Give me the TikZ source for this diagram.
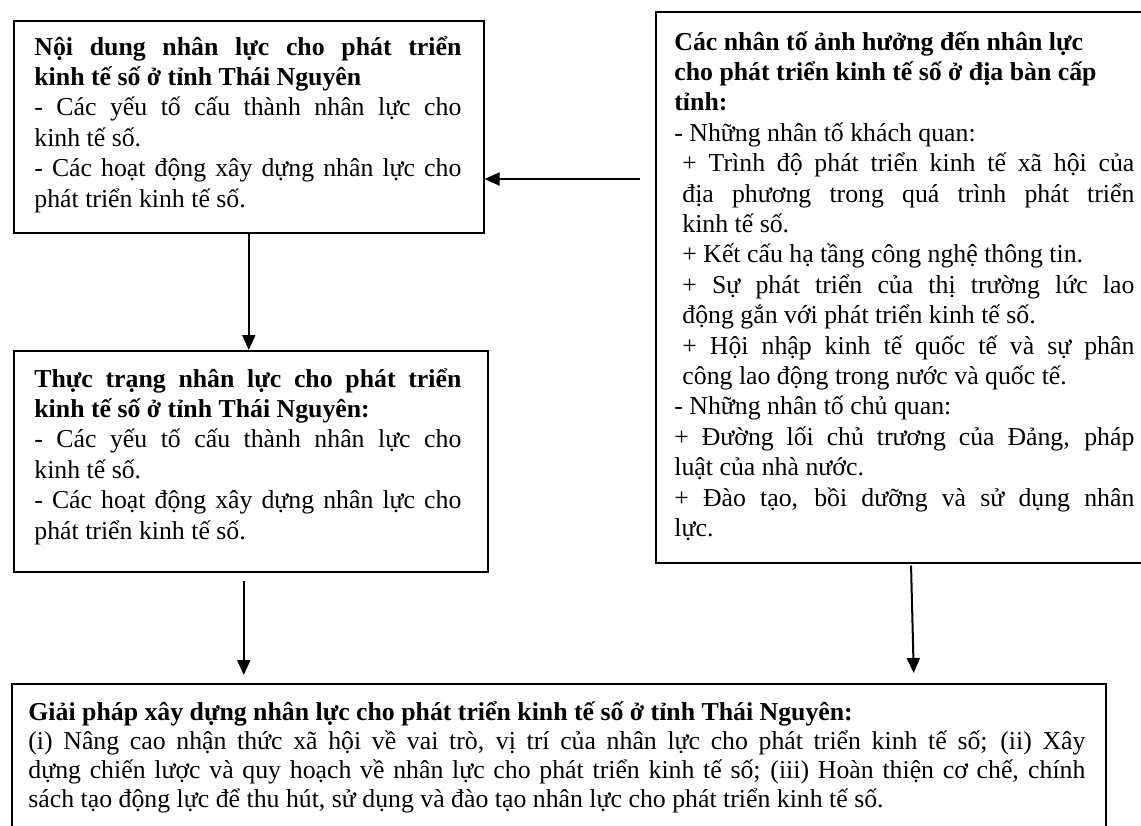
\documentclass[tikz,border=0pt]{standalone}
\usepackage{fontspec}
\setmainfont{Liberation Serif}
\usetikzlibrary{arrows.meta}
\hyphenpenalty=10000
\exhyphenpenalty=10000
\tikzset{
  box/.style={draw,line width=0.8pt,inner sep=0pt,anchor=north west},
  txt/.style={inner sep=0pt,anchor=base west,align=justify,font=\fontsize{12.9}{15.2}\selectfont},
  arr/.style={line width=1pt,-{Triangle[length=7.5pt,width=6.5pt]}}
}
\begin{document}
\begin{tikzpicture}[x=0.5pt,y=-0.5pt]
  \useasboundingbox (0,0) rectangle (1141,825);
  % boxes
  \node[box,minimum width=235pt,minimum height=106pt] (noidung) at (13,20) {};
  \node[box,minimum width=237pt,minimum height=110.5pt] (thuctrang) at (13,350) {};
  \node[box,minimum width=300pt,minimum height=275.5pt] (nhanto) at (655,11) {};
  \node[box,minimum width=547pt,minimum height=83.5pt] (giaiphap) at (11,683) {};
  % texts
  \node[txt,text width=213.5pt] (noidungtxt) at (34,55) {%
    \textbf{Nội dung nhân lực cho phát triển\linebreak kinh tế số ở tỉnh Thái Nguyên}\par
    - Các yếu tố cấu thành nhân lực cho\linebreak kinh tế số.\par
    - Các hoạt động xây dựng nhân lực cho\linebreak phát triển kinh tế số.};
  \node[txt,text width=213.5pt] (thuctrangtxt) at (34,387) {%
    \textbf{Thực trạng nhân lực cho phát triển\linebreak kinh tế số ở tỉnh Thái Nguyên:}\par
    - Các yếu tố cấu thành nhân lực cho\linebreak kinh tế số.\par
    - Các hoạt động xây dựng nhân lực cho\linebreak phát triển kinh tế số.};
  \node[txt,text width=230pt] (nhantotxt) at (674,50) {%
    \textbf{Các nhân tố ảnh hưởng đến nhân lực\newline cho phát triển kinh tế số ở địa bàn cấp\newline tỉnh:}\par
    - Những nhân tố khách quan:\par
    {\leftskip=4pt
    + Trình độ phát triển kinh tế xã hội của\linebreak địa phương trong quá trình phát triển\linebreak kinh tế số.\par
    + Kết cấu hạ tầng công nghệ thông tin.\par
    + Sự phát triển của thị trường lức lao\linebreak động gắn với phát triển kinh tế số.\par
    + Hội nhập kinh tế quốc tế và sự phân\linebreak công lao động trong nước và quốc tế.\par}
    - Những nhân tố chủ quan:\par
    + Đường lối chủ trương của Đảng, pháp\linebreak luật của nhà nước.\par
    + Đào tạo, bồi dưỡng và sử dụng nhân\linebreak lực.};
  \node[txt,text width=528.5pt,font=\fontsize{12.9}{14.6}\selectfont] (giaiphaptxt) at (28,720) {%
    \textbf{Giải pháp xây dựng nhân lực cho phát triển kinh tế số ở tỉnh Thái Nguyên:}\par
    (i) Nâng cao nhận thức xã hội về vai trò, vị trí của nhân lực cho phát triển kinh tế số; (ii) Xây\linebreak
    dựng chiến lược và quy hoạch về nhân lực cho phát triển kinh tế số; (iii) Hoàn thiện cơ chế, chính\linebreak
    sách tạo động lực để thu hút, sử dụng và đào tạo nhân lực cho phát triển kinh tế số.};
  % arrows
  \coordinate (h) at (640,179);
  \draw[arr] (h) -- (h -| noidung.east);
  \draw[arr] (noidung.south) -- (noidung.south |- thuctrang.north);
  \draw[arr,shorten <=4pt,shorten >=4pt] ([xshift=-3.5pt]thuctrang.south) -- ([xshift=-3.5pt]thuctrang.south |- giaiphap.north);
  \draw[arr,shorten <=1pt,shorten >=5pt] ([xshift=128pt]nhanto.south west) -- ([xshift=129.5pt]nhanto.south west |- giaiphap.north);
\end{tikzpicture}
\end{document}
